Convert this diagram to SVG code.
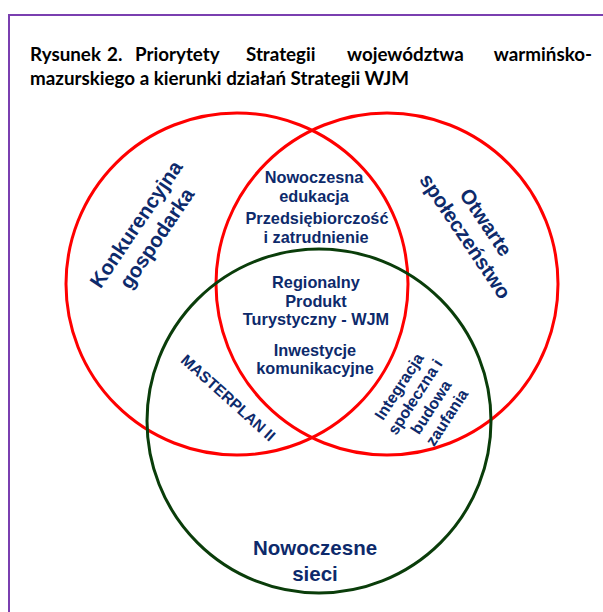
<svg xmlns="http://www.w3.org/2000/svg" width="603" height="612" viewBox="0 0 603 612">
<style>
.title{font-family:"Lato","Liberation Sans",sans-serif;font-weight:bold;font-size:18.8px;fill:#000}
.lbl{font-family:"Liberation Sans",Arial,sans-serif;font-weight:bold;fill:#0d2a6b;text-anchor:middle}
.red{fill:none;stroke:#ff0000;stroke-width:3}
.grn{fill:none;stroke:#0a3d0a;stroke-width:3}
</style>
<rect x="0" y="0" width="603" height="612" fill="#fff"/>
<rect x="9" y="15" width="620" height="620" fill="none" stroke="#7a3fb0" stroke-width="2"/>
<g id="title">
<text class="title" x="30" y="61">Rysunek</text>
<text class="title" x="107" y="61">2.</text>
<text class="title" x="135" y="61">Priorytety</text>
<text class="title" x="246" y="61">Strategii</text>
<text class="title" x="347" y="61">województwa</text>
<text class="title" x="592" y="61" text-anchor="end">warmińsko-</text>
<text class="title" x="30" y="85">mazurskiego a kierunki działań Strategii WJM</text>
</g>
<g id="circles">
<g id="konkurencyjna"><circle class="red" cx="237" cy="284" r="171"/></g>
<g id="otwarte"><circle class="red" cx="387" cy="284" r="171"/></g>
<g id="sieci"><circle class="grn" cx="319" cy="421" r="172"/></g>
</g>
<g id="connectors"></g>
<g id="label-konkurencyjna" transform="translate(146,231) rotate(-56)">
<text class="lbl" font-size="20.5" x="0" y="-5">Konkurencyjna</text>
<text class="lbl" font-size="20.5" x="0" y="20">gospodarka</text>
</g>
<g id="label-otwarte" transform="translate(476,229) rotate(56)">
<text class="lbl" font-size="20.5" x="0" y="-5">Otwarte</text>
<text class="lbl" font-size="20.5" x="0" y="20">społeczeństwo</text>
</g>
<g id="label-top" font-size="16.3">
<text class="lbl" x="314" y="183">Nowoczesna</text>
<text class="lbl" x="314" y="202">edukacja</text>
<text class="lbl" x="317" y="224">Przedsiębiorczość</text>
<text class="lbl" x="316" y="243">i zatrudnienie</text>
</g>
<g id="label-center" font-size="16.3">
<text class="lbl" x="316" y="288">Regionalny</text>
<text class="lbl" x="316" y="307">Produkt</text>
<text class="lbl" x="316" y="325">Turystyczny - WJM</text>
<text class="lbl" x="315" y="356">Inwestycje</text>
<text class="lbl" x="315" y="374">komunikacyjne</text>
</g>
<g id="label-masterplan" transform="translate(228,398) rotate(42)">
<text class="lbl" font-size="15.5" x="0" y="5">MASTERPLAN II</text>
</g>
<g id="label-integracja" transform="translate(423,402) rotate(-57)">
<text class="lbl" font-size="16" x="0" y="-23">Integracja</text>
<text class="lbl" font-size="16" x="0" y="-4">społeczna i</text>
<text class="lbl" font-size="16" x="0" y="15">budowa</text>
<text class="lbl" font-size="16" x="0" y="34">zaufania</text>
</g>
<g id="label-sieci" font-size="20.5">
<text class="lbl" x="315" y="555">Nowoczesne</text>
<text class="lbl" x="315" y="581">sieci</text>
</g>
</svg>
